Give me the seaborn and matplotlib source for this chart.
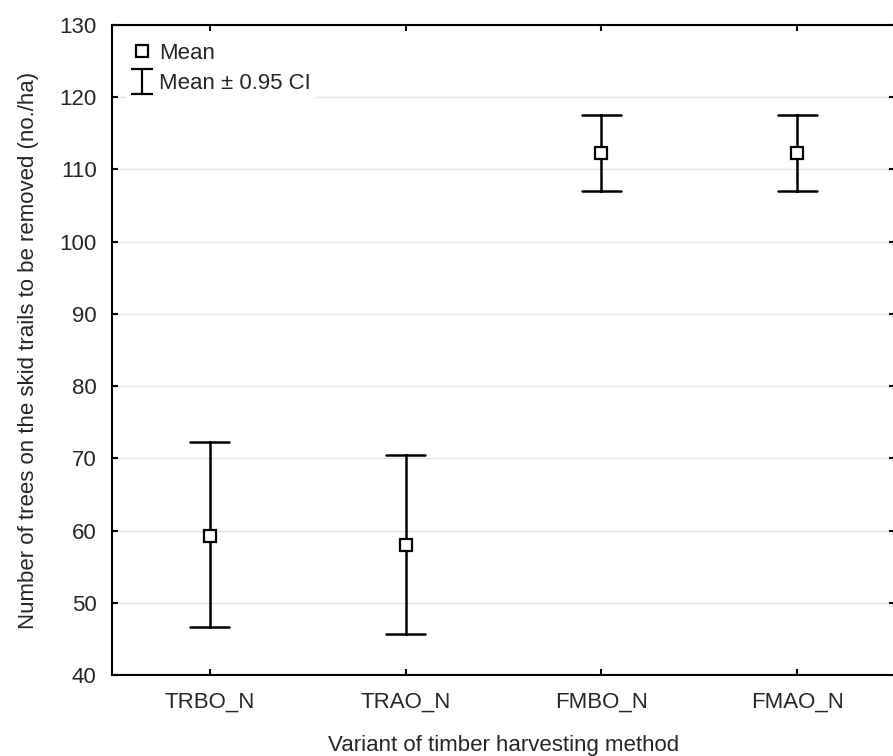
import pandas as pd
import matplotlib.pyplot as plt
import seaborn as sns
from matplotlib.lines import Line2D
from matplotlib.path import Path

# summary values
variants = ['TRBO_N', 'TRAO_N', 'FMBO_N', 'FMAO_N']
means = [59.2, 58.0, 112.3, 112.3]
ci_low = [46.6, 45.7, 107.0, 107.0]
ci_high = [72.2, 70.5, 117.6, 117.6]

# long table: lower bound, mean, upper bound per variant
rows = []
for v, lo, m, hi in zip(variants, ci_low, means, ci_high):
    for val in (lo, m, hi):
        rows.append({'variant': v, 'value': val})
df = pd.DataFrame(rows)

sns.set_style('ticks')
plt.rcParams['font.family'] = ['Liberation Sans', 'DejaVu Sans']
plt.rcParams['font.size'] = 16

fig = plt.figure(figsize=(8.93, 7.56), dpi=100)
ax = fig.add_axes([112 / 893, 81 / 756, (895 - 112) / 893, (675 - 25) / 756])

ax.yaxis.grid(True, color='#e4e4e4', linewidth=1.0, zorder=0)
ax.set_axisbelow(True)

sns.pointplot(data=df, x='variant', y='value', order=variants,
              estimator='median', errorbar=lambda s: (s.min(), s.max()),
              color='black', linestyle='none', markers='s', capsize=0.2,
              err_kws={'linewidth': 1.8, 'zorder': 3},
              markersize=9, markerfacecolor='white', markeredgecolor='black',
              markeredgewidth=1.6, zorder=4, ax=ax)

ax.set_xlim(-0.5, 3.5)
ax.set_ylim(40, 130)
ax.set_yticks(range(40, 131, 10))
ax.set_xlabel('Variant of timber harvesting method', labelpad=16)
ax.set_ylabel('Number of trees on the skid trails to be removed (no./ha)', labelpad=15)

for s in ax.spines.values():
    s.set_linewidth(1.5)
    s.set_color('black')
ax.tick_params(direction='in', length=4, width=1.5, top=True, right=True,
               labelsize=16, color='black')
ax.tick_params(axis='x', pad=12)
ax.tick_params(axis='y', pad=11)

# legend with an I-shaped symbol for the interval
ibar = Path([(-0.45, -0.5), (0.45, -0.5), (0, -0.5), (0, 0.5), (-0.45, 0.5), (0.45, 0.5)],
            [Path.MOVETO, Path.LINETO, Path.MOVETO, Path.LINETO, Path.MOVETO, Path.LINETO])
handles = [
    Line2D([], [], linestyle='none', marker='s', markersize=8.5, markerfacecolor='white',
           markeredgecolor='black', markeredgewidth=1.6),
    Line2D([], [], linestyle='none', marker=ibar, markersize=18, markeredgecolor='black',
           markeredgewidth=1.6),
]
leg = ax.legend(handles, ['Mean', 'Mean ± 0.95 CI'], loc='upper left',
                bbox_to_anchor=(0.018, 0.979), borderaxespad=0, frameon=True,
                fancybox=False, facecolor='white', edgecolor='none', framealpha=1,
                handlelength=1.0, handletextpad=0.3, labelspacing=0.4,
                borderpad=0.2, fontsize=16)

fig.savefig('out.png', dpi=100)
